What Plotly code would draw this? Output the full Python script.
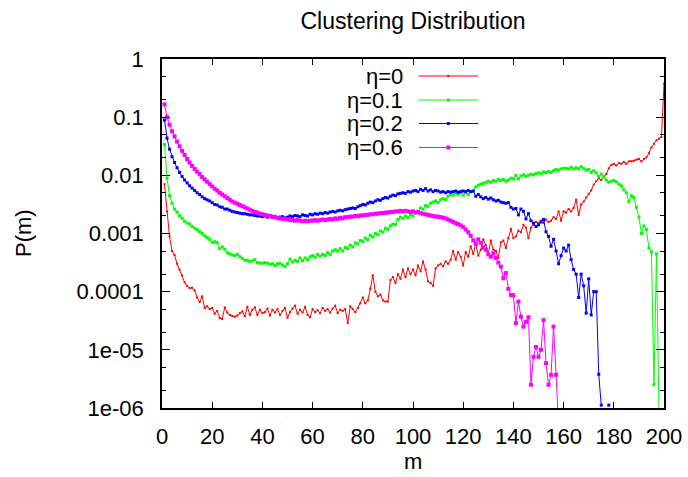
import plotly.graph_objects as go

m_eta0 = list(range(1, 201))
p_eta0 = [
    7.08e-3, 2.40e-3, 8.91e-4, 5.01e-4, 4.27e-4, 3.02e-4, 2.40e-4, 1.91e-4, 1.45e-4, 1.26e-4,
    1.15e-4, 1.17e-4, 1.05e-4, 7.94e-5, 6.61e-5, 8.32e-5, 5.25e-5, 5.62e-5, 5.01e-5, 5.25e-5,
    4.17e-5, 4.68e-5, 3.55e-5, 3.39e-5, 5.37e-5, 4.37e-5, 3.98e-5, 3.80e-5, 3.72e-5, 3.89e-5,
    4.27e-5, 4.57e-5, 3.80e-5, 5.50e-5, 3.98e-5, 4.90e-5, 5.37e-5, 3.98e-5, 4.90e-5, 4.27e-5,
    4.47e-5, 5.13e-5, 3.89e-5, 4.90e-5, 4.37e-5, 5.01e-5, 3.98e-5, 4.68e-5, 5.25e-5, 3.55e-5,
    4.47e-5, 5.13e-5, 5.75e-5, 4.17e-5, 4.90e-5, 4.37e-5, 5.50e-5, 3.98e-5, 3.63e-5, 5.01e-5,
    4.47e-5, 4.79e-5, 4.27e-5, 5.25e-5, 4.68e-5, 5.01e-5, 4.37e-5, 5.13e-5, 5.75e-5, 4.27e-5,
    4.90e-5, 4.68e-5, 5.01e-5, 2.88e-5, 5.62e-5, 5.01e-5, 4.47e-5, 5.25e-5, 6.31e-5, 7.94e-5,
    6.31e-5, 7.08e-5, 1.12e-4, 1.91e-4, 1.00e-4, 8.32e-5, 8.91e-5, 7.08e-5, 6.76e-5, 6.76e-5,
    1.58e-4, 1.78e-4, 1.41e-4, 2.00e-4, 1.66e-4, 2.40e-4, 1.78e-4, 2.51e-4, 2.00e-4, 2.40e-4,
    1.91e-4, 2.82e-4, 2.24e-4, 3.31e-4, 2.40e-4, 1.51e-4, 1.41e-4, 1.26e-4, 2.51e-4, 2.82e-4,
    3.02e-4, 2.75e-4, 3.31e-4, 3.02e-4, 3.55e-4, 5.01e-4, 3.55e-4, 4.79e-4, 3.98e-4, 2.82e-4,
    4.79e-4, 3.98e-4, 6.03e-4, 4.47e-4, 6.61e-4, 4.17e-4, 5.25e-4, 7.94e-4, 6.31e-4, 4.47e-4,
    7.59e-4, 5.25e-4, 5.01e-4, 3.80e-4, 7.08e-4, 7.59e-4, 5.62e-4, 8.32e-4, 1.20e-3, 8.32e-4,
    8.91e-4, 1.12e-3, 1.05e-3, 1.41e-3, 1.26e-3, 8.32e-4, 1.26e-3, 1.41e-3, 1.58e-3, 1.51e-3,
    1.66e-3, 1.51e-3, 1.74e-3, 1.58e-3, 1.66e-3, 1.91e-3, 1.78e-3, 2.40e-3, 1.66e-3, 2.40e-3,
    2.29e-3, 2.63e-3, 2.40e-3, 2.75e-3, 3.80e-3, 2.09e-3, 3.16e-3, 3.55e-3, 4.17e-3, 4.79e-3,
    5.50e-3, 6.92e-3, 7.94e-3, 8.91e-3, 8.32e-3, 9.55e-3, 1.05e-2, 1.32e-2, 1.51e-2, 1.58e-2,
    1.48e-2, 1.62e-2, 1.58e-2, 1.70e-2, 1.58e-2, 1.74e-2, 1.74e-2, 1.78e-2, 1.86e-2, 1.91e-2,
    1.74e-2, 1.91e-2, 2.04e-2, 2.40e-2, 3.02e-2, 3.47e-2, 3.98e-2, 4.27e-2, 4.57e-2, 0.380,
]

m_eta01 = list(range(1, 199))
p_eta01 = [
    3.39e-2, 8.91e-3, 4.47e-3, 3.31e-3, 2.63e-3, 2.34e-3, 2.00e-3, 1.82e-3, 1.62e-3, 1.51e-3,
    1.45e-3, 1.32e-3, 1.23e-3, 1.17e-3, 1.07e-3, 1.00e-3, 9.12e-4, 8.51e-4, 7.94e-4, 7.08e-4,
    7.24e-4, 6.92e-4, 5.50e-4, 5.89e-4, 5.37e-4, 4.68e-4, 4.47e-4, 4.27e-4, 4.17e-4, 4.37e-4,
    3.98e-4, 3.72e-4, 3.47e-4, 3.47e-4, 3.31e-4, 3.39e-4, 3.55e-4, 3.16e-4, 3.09e-4, 3.09e-4,
    3.16e-4, 3.09e-4, 2.95e-4, 3.02e-4, 2.82e-4, 3.02e-4, 3.09e-4, 2.88e-4, 2.69e-4, 3.02e-4,
    3.63e-4, 3.24e-4, 3.47e-4, 3.31e-4, 3.80e-4, 3.39e-4, 3.80e-4, 3.55e-4, 3.98e-4, 4.17e-4,
    3.89e-4, 4.37e-4, 4.07e-4, 4.37e-4, 4.17e-4, 4.68e-4, 4.37e-4, 5.01e-4, 5.25e-4, 5.01e-4,
    5.50e-4, 5.01e-4, 5.75e-4, 5.50e-4, 6.31e-4, 5.89e-4, 6.92e-4, 6.61e-4, 7.59e-4, 7.24e-4,
    8.32e-4, 7.76e-4, 9.33e-4, 8.71e-4, 1.00e-3, 9.55e-4, 1.10e-3, 1.05e-3, 1.23e-3, 1.17e-3,
    1.35e-3, 1.45e-3, 1.41e-3, 1.74e-3, 1.91e-3, 1.82e-3, 2.00e-3, 1.86e-3, 2.09e-3, 2.00e-3,
    2.29e-3, 2.40e-3, 2.75e-3, 2.63e-3, 3.02e-3, 2.95e-3, 3.31e-3, 3.47e-3, 3.63e-3, 3.39e-3,
    3.80e-3, 3.98e-3, 3.80e-3, 4.37e-3, 4.68e-3, 4.57e-3, 4.90e-3, 4.68e-3, 5.01e-3, 4.57e-3,
    5.01e-3, 4.68e-3, 5.25e-3, 5.37e-3, 6.31e-3, 6.76e-3, 7.08e-3, 7.24e-3, 7.59e-3, 7.94e-3,
    7.59e-3, 8.13e-3, 7.94e-3, 8.51e-3, 8.13e-3, 8.51e-3, 7.94e-3, 8.32e-3, 8.91e-3, 8.71e-3,
    1.00e-2, 8.71e-3, 9.77e-3, 1.02e-2, 9.55e-3, 1.00e-2, 1.05e-2, 1.02e-2, 1.07e-2, 1.10e-2,
    1.07e-2, 1.15e-2, 1.12e-2, 1.17e-2, 1.12e-2, 1.20e-2, 1.26e-2, 1.23e-2, 1.29e-2, 1.32e-2,
    1.32e-2, 1.29e-2, 1.38e-2, 1.29e-2, 1.35e-2, 1.29e-2, 1.41e-2, 1.32e-2, 1.23e-2, 1.26e-2,
    1.12e-2, 1.20e-2, 1.10e-2, 9.55e-3, 1.05e-2, 9.33e-3, 8.32e-3, 7.59e-3, 7.94e-3, 8.13e-3,
    7.76e-3, 7.08e-3, 6.61e-3, 5.62e-3, 5.01e-3, 3.55e-3, 4.47e-3, 4.17e-3, 2.82e-3, 1.91e-3,
    1.00e-3, 1.35e-3, 1.17e-3, 5.62e-4, 4.79e-4, 2.51e-6, 4.47e-4, 8.9e-7,
]

m_eta02 = list(range(1, 179))
p_eta02 = [
    8.91e-2, 4.37e-2, 2.82e-2, 2.09e-2, 1.66e-2, 1.35e-2, 1.12e-2, 9.55e-3, 8.32e-3, 7.41e-3,
    6.61e-3, 6.03e-3, 5.50e-3, 5.01e-3, 4.68e-3, 4.27e-3, 3.98e-3, 3.80e-3, 3.63e-3, 3.39e-3,
    3.16e-3, 3.09e-3, 2.88e-3, 2.82e-3, 2.63e-3, 2.63e-3, 2.51e-3, 2.40e-3, 2.34e-3, 2.29e-3,
    2.24e-3, 2.19e-3, 2.19e-3, 2.14e-3, 2.09e-3, 2.09e-3, 2.04e-3, 2.00e-3, 2.00e-3, 1.95e-3,
    2.00e-3, 1.91e-3, 1.95e-3, 1.91e-3, 1.95e-3, 1.86e-3, 1.91e-3, 1.95e-3, 1.86e-3, 1.91e-3,
    2.00e-3, 1.95e-3, 2.04e-3, 2.00e-3, 1.95e-3, 2.09e-3, 2.04e-3, 2.00e-3, 2.14e-3, 2.09e-3,
    2.19e-3, 2.14e-3, 2.24e-3, 2.19e-3, 2.29e-3, 2.24e-3, 2.34e-3, 2.40e-3, 2.34e-3, 2.45e-3,
    2.51e-3, 2.45e-3, 2.57e-3, 2.63e-3, 2.69e-3, 2.75e-3, 2.69e-3, 2.88e-3, 3.02e-3, 3.16e-3,
    3.09e-3, 3.31e-3, 3.47e-3, 3.39e-3, 3.63e-3, 3.80e-3, 3.72e-3, 3.98e-3, 4.17e-3, 4.07e-3,
    4.37e-3, 4.57e-3, 4.47e-3, 4.79e-3, 4.90e-3, 5.01e-3, 4.90e-3, 5.25e-3, 5.13e-3, 5.37e-3,
    5.50e-3, 5.25e-3, 5.75e-3, 5.50e-3, 5.89e-3, 5.37e-3, 5.62e-3, 5.25e-3, 5.50e-3, 5.37e-3,
    5.13e-3, 5.25e-3, 5.01e-3, 5.25e-3, 5.13e-3, 5.25e-3, 5.37e-3, 5.13e-3, 5.25e-3, 5.37e-3,
    5.25e-3, 5.50e-3, 5.25e-3, 5.37e-3, 4.37e-3, 4.68e-3, 4.27e-3, 3.98e-3, 4.17e-3, 3.89e-3,
    4.07e-3, 3.80e-3, 3.63e-3, 3.72e-3, 3.47e-3, 3.39e-3, 3.31e-3, 3.39e-3, 2.82e-3, 2.63e-3,
    2.69e-3, 2.09e-3, 2.63e-3, 2.40e-3, 1.78e-3, 2.19e-3, 1.66e-3, 1.51e-3, 1.32e-3, 1.41e-3,
    1.58e-3, 1.74e-3, 1.07e-3, 8.91e-4, 6.03e-4, 7.94e-4, 5.01e-4, 3.02e-4, 4.17e-4, 5.62e-4,
    5.01e-4, 6.31e-4, 3.55e-4, 2.40e-4, 2.00e-4, 7.94e-5, 2.00e-4, 1.26e-4, 4.27e-5, 1.66e-4,
    3.98e-5, 1.00e-4, 1.00e-4, 3.80e-6, 1.12e-6, None, None, 1.12e-6,
]

m_eta06 = list(range(1, 159))
p_eta06 = [
    0.166, 0.100, 7.41e-2, 5.75e-2, 4.68e-2, 3.80e-2, 3.16e-2, 2.63e-2, 2.24e-2, 1.91e-2,
    1.66e-2, 1.45e-2, 1.29e-2, 1.15e-2, 1.05e-2, 9.33e-3, 8.51e-3, 7.76e-3, 7.08e-3, 6.46e-3,
    5.89e-3, 5.50e-3, 5.01e-3, 4.68e-3, 4.37e-3, 4.07e-3, 3.80e-3, 3.55e-3, 3.39e-3, 3.24e-3,
    3.09e-3, 2.95e-3, 2.82e-3, 2.69e-3, 2.57e-3, 2.45e-3, 2.34e-3, 2.29e-3, 2.19e-3, 2.14e-3,
    2.09e-3, 2.04e-3, 2.00e-3, 1.95e-3, 1.91e-3, 1.86e-3, 1.82e-3, 1.78e-3, 1.78e-3, 1.74e-3,
    1.70e-3, 1.70e-3, 1.66e-3, 1.70e-3, 1.66e-3, 1.62e-3, 1.66e-3, 1.62e-3, 1.66e-3, 1.66e-3,
    1.70e-3, 1.66e-3, 1.70e-3, 1.74e-3, 1.70e-3, 1.74e-3, 1.78e-3, 1.74e-3, 1.82e-3, 1.78e-3,
    1.86e-3, 1.82e-3, 1.91e-3, 1.91e-3, 1.95e-3, 1.95e-3, 2.00e-3, 2.00e-3, 2.04e-3, 2.04e-3,
    2.09e-3, 2.09e-3, 2.14e-3, 2.14e-3, 2.19e-3, 2.19e-3, 2.24e-3, 2.24e-3, 2.29e-3, 2.29e-3,
    2.34e-3, 2.34e-3, 2.40e-3, 2.40e-3, 2.45e-3, 2.40e-3, 2.45e-3, 2.40e-3, 2.34e-3, 2.40e-3,
    2.29e-3, 2.34e-3, 2.24e-3, 2.19e-3, 2.14e-3, 2.09e-3, 2.04e-3, 2.00e-3, 1.95e-3, 1.95e-3,
    1.91e-3, 1.86e-3, 1.82e-3, 1.74e-3, 1.66e-3, 1.58e-3, 1.51e-3, 1.45e-3, 1.38e-3, 1.29e-3,
    1.17e-3, 1.05e-3, 9.12e-4, 7.59e-4, 6.61e-4, 7.94e-4, 6.92e-4, 5.75e-4, 5.25e-4, 4.37e-4,
    3.98e-4, 4.57e-4, 3.80e-4, 3.16e-4, 2.69e-4, 1.70e-4, 2.09e-4, 1.12e-4, 8.71e-5, 8.71e-5,
    2.88e-5, 6.76e-5, 3.72e-5, 2.51e-5, 3.02e-5, 3.63e-5, 2.51e-6, 7.59e-6, 1.12e-5, 7.59e-6,
    1.00e-5, 3.24e-5, 5.89e-6, 2.51e-6, 3.72e-6, 2.51e-5, 3.72e-6, 5.0e-7,
]

series_names = ["η=0", "η=0.1", "η=0.2", "η=0.6"]
series_colors = ["#ff0000", "#00ff00", "#0000ff", "#ff00ff"]
marker_sizes = [2, 3, 3, 4]

y_tick_vals = [1, 0.1, 0.01, 0.001, 0.0001, 1e-05, 1e-06]
y_tick_text = ["1", "0.1", "0.01", "0.001", "0.0001", "1e-05", "1e-06"]
y_minor_vals = [5e-1, 2e-1, 5e-2, 2e-2, 5e-3, 2e-3, 5e-4, 2e-4, 5e-5, 2e-5, 5e-6, 2e-6]
x_tick_vals = [0, 20, 40, 60, 80, 100, 120, 140, 160, 180, 200]

FONT = "Liberation Sans, Arial, sans-serif"
FS = 22

fig = go.Figure()
xs = [m_eta0, m_eta01, m_eta02, m_eta06]
ys = [p_eta0, p_eta01, p_eta02, p_eta06]
for name, color, ms, x, y in zip(series_names, series_colors, marker_sizes, xs, ys):
    fig.add_trace(go.Scatter(
        x=x, y=y, name=name, mode="lines+markers",
        line=dict(color=color, width=1),
        marker=dict(color=color, size=ms, symbol="square"),
        showlegend=False,
    ))

# plot area geometry (pixels) for the gnuplot style key
L, R, T, B = 162, 664, 59, 408
W, H = R - L, B - T
def px(xp):
    return (xp - L) / W
def py(yp):
    return (B - yp) / H

row_y = [76, 100, 123.5, 147.5]
annotations = []
shapes = []
for name, color, ms, yy in zip(series_names, series_colors, marker_sizes, row_y):
    annotations.append(dict(
        x=px(405), y=py(yy), xref="paper", yref="paper", text=name,
        showarrow=False, xanchor="right", yanchor="middle",
        font=dict(family=FONT, size=FS, color="black"),
    ))
    shapes.append(dict(type="line", xref="paper", yref="paper",
                       x0=px(419), x1=px(478), y0=py(yy), y1=py(yy),
                       line=dict(color=color, width=1)))
    hs = ms / 2
    shapes.append(dict(type="rect", xref="paper", yref="paper",
                       x0=px(448.3 - hs), x1=px(448.3 + hs),
                       y0=py(yy + hs), y1=py(yy - hs),
                       line=dict(width=0), fillcolor=color))

# axis titles, placed like gnuplot does
annotations.append(dict(x=px((L + R) / 2), y=py(476), xref="paper", yref="paper", text="m",
                        showarrow=False, xanchor="center", yanchor="bottom",
                        font=dict(family=FONT, size=FS, color="black")))
annotations.append(dict(x=px(23), y=py(233), xref="paper", yref="paper", text="P(m)",
                        showarrow=False, xanchor="center", yanchor="middle", textangle=-90,
                        font=dict(family=FONT, size=FS, color="black")))

fig.update_layout(
    width=688, height=477,
    margin=dict(l=L, r=688 - R, t=T, b=477 - B),
    paper_bgcolor="white", plot_bgcolor="white",
    font=dict(family=FONT, size=FS, color="black"),
    title=dict(text="Clustering Distribution", x=(L + R) / 2 / 688, xanchor="center",
               y=1 - 21 / 477, yanchor="middle", font=dict(family=FONT, size=23)),
    annotations=annotations,
    shapes=shapes,
)
fig.update_xaxes(
    range=[0, 200], tickvals=x_tick_vals, ticks="inside", ticklen=6, tickwidth=1,
    tickcolor="black", showline=True, linecolor="black", linewidth=1.5, mirror="ticks",
    showgrid=False, zeroline=False, ticklabelstandoff=8, automargin=False,
    tickfont=dict(family=FONT, size=FS),
)
fig.update_yaxes(
    type="log", range=[-6, 0], tickvals=y_tick_vals, ticktext=y_tick_text,
    ticks="inside", ticklen=8, tickwidth=1, tickcolor="black",
    minor=dict(tickvals=y_minor_vals, ticks="inside", ticklen=4, tickcolor="black", showgrid=False),
    showline=True, linecolor="black", linewidth=1.5, mirror="ticks",
    showgrid=False, zeroline=False, ticklabelstandoff=12, automargin=False,
    tickfont=dict(family=FONT, size=FS),
)

fig.write_html("out.html")
